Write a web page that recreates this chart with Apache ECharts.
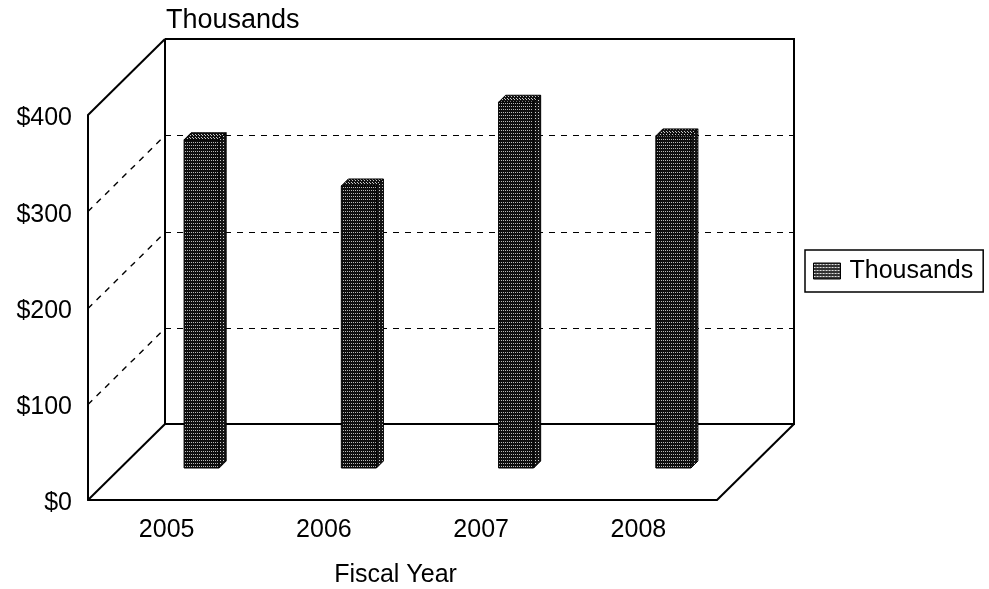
<!DOCTYPE html>
<html><head><meta charset="utf-8">
<script src="https://cdn.jsdelivr.net/npm/echarts@6/dist/echarts.min.js"></script>
<style>html,body{margin:0;padding:0;background:#fff}#c{width:989px;height:589px}</style>
</head><body><div id="c"></div>
<script>
// ---- data ----
const categories = ['2005', '2006', '2007', '2008'];
const seriesName = 'Thousands';
const values = [341, 293, 380, 345];
const yTicks = [0, 100, 200, 300, 400];
const wallGridTicks = [100, 200, 300];
const titleText = 'Thousands';
const xAxisName = 'Fiscal Year';

// ---- style constants ----
const FONT = '"Liberation Sans", Arial, sans-serif';
const DX = 77, DY = 76;          // depth of the pseudo-3D box (px)
const BAR_OX = 35, BAR_OY = 32;  // bar position inside the depth (px)
const BAR_D = 7;                 // bar depth (px)
const BAR_W = 0.223;             // bar width as share of category band

function makePattern(bg, fg, w, h, dots) {
  const cv = document.createElement('canvas');
  cv.width = w; cv.height = h;
  const ctx = cv.getContext('2d');
  ctx.fillStyle = bg; ctx.fillRect(0, 0, w, h);
  ctx.fillStyle = fg;
  dots.forEach(d => ctx.fillRect(d[0], d[1], 1, 1));
  return { image: cv, repeat: 'repeat' };
}
const frontFill = makePattern('#0d0d0d', '#b8b8b8', 4, 3, [[1, 1], [3, 1]]);
const sideFill = makePattern('#151515', '#d0d0d0', 3, 3, [[1, 1]]);
const topFill = makePattern('#111', '#c8c8c8', 3, 3, [[1, 0], [0, 2]]);
const legendFill = makePattern('#333', '#e0e0e0', 3, 3, [[0, 1], [1, 1]]);

const chart = echarts.init(document.getElementById('c'), null, { renderer: 'canvas' });

const option = {
  backgroundColor: '#fff',
  animation: false,
  textStyle: { fontFamily: FONT },
  title: {
    text: titleText, left: 161, top: 2,
    textStyle: { fontFamily: FONT, fontSize: 27, fontWeight: 'normal', color: '#000' }
  },
  legend: {
    data: [{ name: seriesName, icon: 'rect', itemStyle: { color: legendFill, borderColor: '#000', borderWidth: 1 } }],
    left: 805, top: 250,
    orient: 'vertical',
    borderColor: '#000', borderWidth: 1.5,
    padding: [6, 10, 6, 8],
    itemWidth: 27, itemHeight: 16,
    textStyle: { fontFamily: FONT, fontSize: 25, color: '#000', lineHeight: 30, padding: [0, 0, 0, 4] }
  },
  grid: { left: 88, top: 115, width: 629, height: 385, containLabel: false, outerBoundsMode: 'none' },
  xAxis: {
    type: 'category', data: categories,
    axisLine: { show: true, lineStyle: { color: '#000', width: 2 } },
    axisTick: { show: false },
    axisLabel: { fontFamily: FONT, fontSize: 25, color: '#000', margin: 18 },
    name: xAxisName, nameLocation: 'middle', nameGap: 63,
    nameTextStyle: { fontFamily: FONT, fontSize: 25, color: '#000', padding: [0, 14, 0, 0] },
    splitLine: { show: false }
  },
  yAxis: {
    type: 'value', min: yTicks[0], max: yTicks[yTicks.length - 1], interval: yTicks[1] - yTicks[0],
    axisLine: { show: true, lineStyle: { color: '#000', width: 2 } },
    axisTick: { show: false },
    axisLabel: { fontFamily: FONT, fontSize: 25, color: '#000', margin: 16, verticalAlign: 'top', lineHeight: 7, formatter: v => '$' + v },
    splitLine: { show: false }
  },
  series: [
    {
      type: 'custom', name: 'frame', silent: true, z: 1, clip: false,
      data: [[0, 0]],
      renderItem: function (params, api) {
        const cs = params.coordSys;
        const x0 = cs.x, y0 = cs.y, x1 = cs.x + cs.width, y1 = cs.y + cs.height;
        const st = { stroke: '#000', lineWidth: 2, fill: null };
        return {
          type: 'group',
          children: [
            { type: 'polyline', shape: { points: [[x0 + DX, y0 - DY], [x1 + DX, y0 - DY], [x1 + DX, y1 - DY], [x0 + DX, y1 - DY], [x0 + DX, y0 - DY]] }, style: st },
            { type: 'line', shape: { x1: x0, y1: y0, x2: x0 + DX, y2: y0 - DY }, style: st },
            { type: 'line', shape: { x1: x0, y1: y1, x2: x0 + DX, y2: y1 - DY }, style: st },
            { type: 'line', shape: { x1: x1, y1: y1, x2: x1 + DX, y2: y1 - DY }, style: st }
          ]
        };
      }
    },
    {
      type: 'custom', name: 'wallgrid', silent: true, z: 1, clip: false,
      data: wallGridTicks.map(v => [0, v]),
      renderItem: function (params, api) {
        const cs = params.coordSys;
        const x0 = cs.x, x1 = cs.x + cs.width;
        const y = Math.round(api.coord([0, api.value(1)])[1]) + 0.5;
        return {
          type: 'group',
          children: [
            { type: 'line', shape: { x1: x0, y1: y, x2: x0 + DX, y2: y - DY },
              style: { stroke: '#000', lineWidth: 1.4, lineDash: [6, 6] } },
            { type: 'line', shape: { x1: x0 + DX, y1: y - DY, x2: x1 + DX, y2: y - DY },
              style: { stroke: '#000', lineWidth: 1, lineDash: [6, 6] } }
          ]
        };
      }
    },
    {
      type: 'custom', name: seriesName, z: 3, clip: false,
      itemStyle: { color: '#333' },
      data: categories.map((c, i) => [i, values[i]]),
      renderItem: function (params, api) {
        const i = api.value(0), v = api.value(1);
        const p0 = api.coord([i, 0]);
        const p1 = api.coord([i, v]);
        const bw = api.size([1, 0])[0];
        const w = bw * BAR_W;
        const xl = p0[0] + BAR_OX - w / 2, xr = xl + w;
        const yb = p0[1] - BAR_OY, yt = p1[1] - BAR_OY;
        const border = { stroke: '#000', lineWidth: 1 };
        return {
          type: 'group',
          children: [
            { type: 'polygon', shape: { points: [[xr, yt], [xr + BAR_D, yt - BAR_D], [xr + BAR_D, yb - BAR_D], [xr, yb]] },
              style: Object.assign({ fill: sideFill }, border) },
            { type: 'polygon', shape: { points: [[xl, yt], [xl + BAR_D, yt - BAR_D], [xr + BAR_D, yt - BAR_D], [xr, yt]] },
              style: Object.assign({ fill: topFill }, border) },
            { type: 'rect', shape: { x: xl, y: yt, width: w, height: yb - yt },
              style: Object.assign({ fill: frontFill }, border) }
          ]
        };
      }
    }
  ]
};
chart.setOption(option);
</script>
</body></html>
